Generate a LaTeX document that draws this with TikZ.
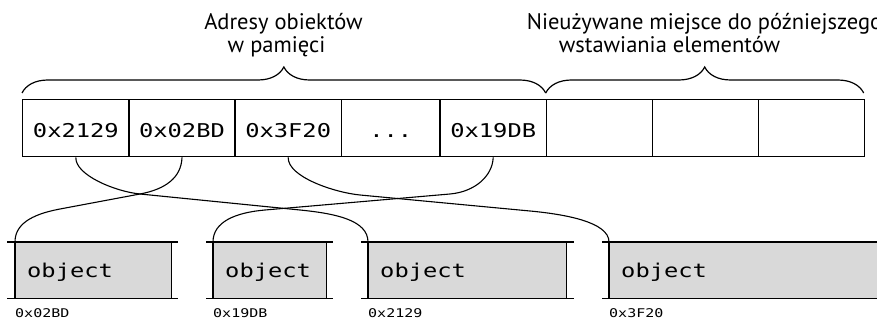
\documentclass[tikz,border=0pt]{standalone}
\usepackage{fontspec}
\usetikzlibrary{decorations.pathreplacing}
\newfontfamily\labfont{PT Sans}
\newfontfamily\codefont[FakeStretch=1.25]{DejaVu Sans Mono}
\definecolor{objgray}{HTML}{D9D9D9}
\begin{document}
\begin{tikzpicture}[x=1pt,y=-1pt,
  cell/.style={draw, line width=1.4pt, anchor=north west, minimum height=57pt,
    inner sep=0pt, text height=19pt, text depth=0pt,
    font=\codefont\fontsize{19}{22}\selectfont},
  objbox/.style={fill=objgray, anchor=north west, minimum height=56pt,
    inner ysep=0pt, inner xsep=12pt, align=left, text height=14pt, text depth=0pt,
    font=\codefont\fontsize{19}{22}\selectfont},
  edge/.style={line width=1.4pt},
  addr/.style={anchor=west, inner sep=0pt, font=\codefont\fontsize{12}{14}\selectfont},
  title/.style={anchor=base, inner sep=0pt, font=\labfont\fontsize{22.5}{24}\selectfont},
  conn/.style={line width=1.1pt},
  bracestyle/.style={line width=1.2pt, decorate, decoration={brace, amplitude=26pt}}]
\useasboundingbox (0,0) rectangle (877,320);

% array cells
\node[cell, minimum width=106.3pt] (c1) at (22,99) {0x2129};
\node[cell, minimum width=106pt]   (c2) at (128.3,99) {0x02BD};
\node[cell, minimum width=106.4pt] (c3) at (234.3,99) {0x3F20};
\node[cell, minimum width=98.6pt]  (c4) at (340.7,99) {...};
\node[cell, minimum width=106.4pt] (c5) at (439.3,99) {0x19DB};
\node[cell, minimum width=106pt]   (c6) at (545.7,99) {};
\node[cell, minimum width=106pt]   (c7) at (651.7,99) {};
\node[cell, minimum width=106pt]   (c8) at (757.7,99) {};

% braces
\coordinate (b1) at (22,93);
\coordinate (b2) at (545.7,93);
\coordinate (b3) at (863.7,93);
\draw[bracestyle] (b1) -- (b2);
\draw[bracestyle] (b2) -- (b3);

% titles
\node[title] (t1) at (283.5,30) {Adresy obiektów};
\node[title] (t2) at (276.5,53) {w pamięci};
\node[title] (t3) at (704.5,30) {Nieużywane miejsce do późniejszego};
\node[title] (t4) at (669.5,53) {wstawiania elementów};

% objects
\node[objbox, text width=132pt] (o1) at (15,242) {object};
\node[objbox, text width=89pt]  (o2) at (213,242) {object};
\node[objbox, text width=174pt] (o3) at (368,242) {object};
\node[objbox, text width=300pt] (o4) at (609,242) {object};

\foreach \o/\l/\r in {o1/8/7, o2/7/7, o3/7/8, o4/7/0}{
  \draw[edge] ([xshift=-\l pt]\o.north west) -- ([xshift=\r pt]\o.north east);
  \draw[edge] ([xshift=-\l pt]\o.south west) -- ([xshift=\r pt]\o.south east);
  \draw[edge] (\o.north west) -- (\o.south west);
  \draw[edge] (\o.north east) -- (\o.south east);
}

% address labels
\node[addr] (a1) at ([yshift=-15pt]o1.south west) {0x02BD};
\node[addr] (a2) at ([yshift=-15pt]o2.south west) {0x19DB};
\node[addr] (a3) at ([yshift=-15pt]o3.south west) {0x2129};
\node[addr] (a4) at ([yshift=-15pt]o4.south west) {0x3F20};

% connectors
\draw[conn] (c1.south) .. controls (75,175) and (115,191.5) .. (140,194)
  -- (300,210) .. controls (335,213.5) and (368,220) .. (o3.north west);
\draw[conn] (c2.south) .. controls (181.3,178) and (165,189.3) .. (140,194)
  -- (60,209) .. controls (30,214.6) and (15,225) .. (o1.north west);
\draw[conn] (c3.south) .. controls (287.5,177) and (335,192.6) .. (360,195)
  -- (530,211) .. controls (565,214.3) and (609,222) .. (o4.north west);
\draw[conn] (c5.south) .. controls (492.5,176) and (475,191.8) .. (450,194)
  -- (265,210) .. controls (235,212.6) and (213,222) .. (o2.north west);
\end{tikzpicture}
\end{document}
